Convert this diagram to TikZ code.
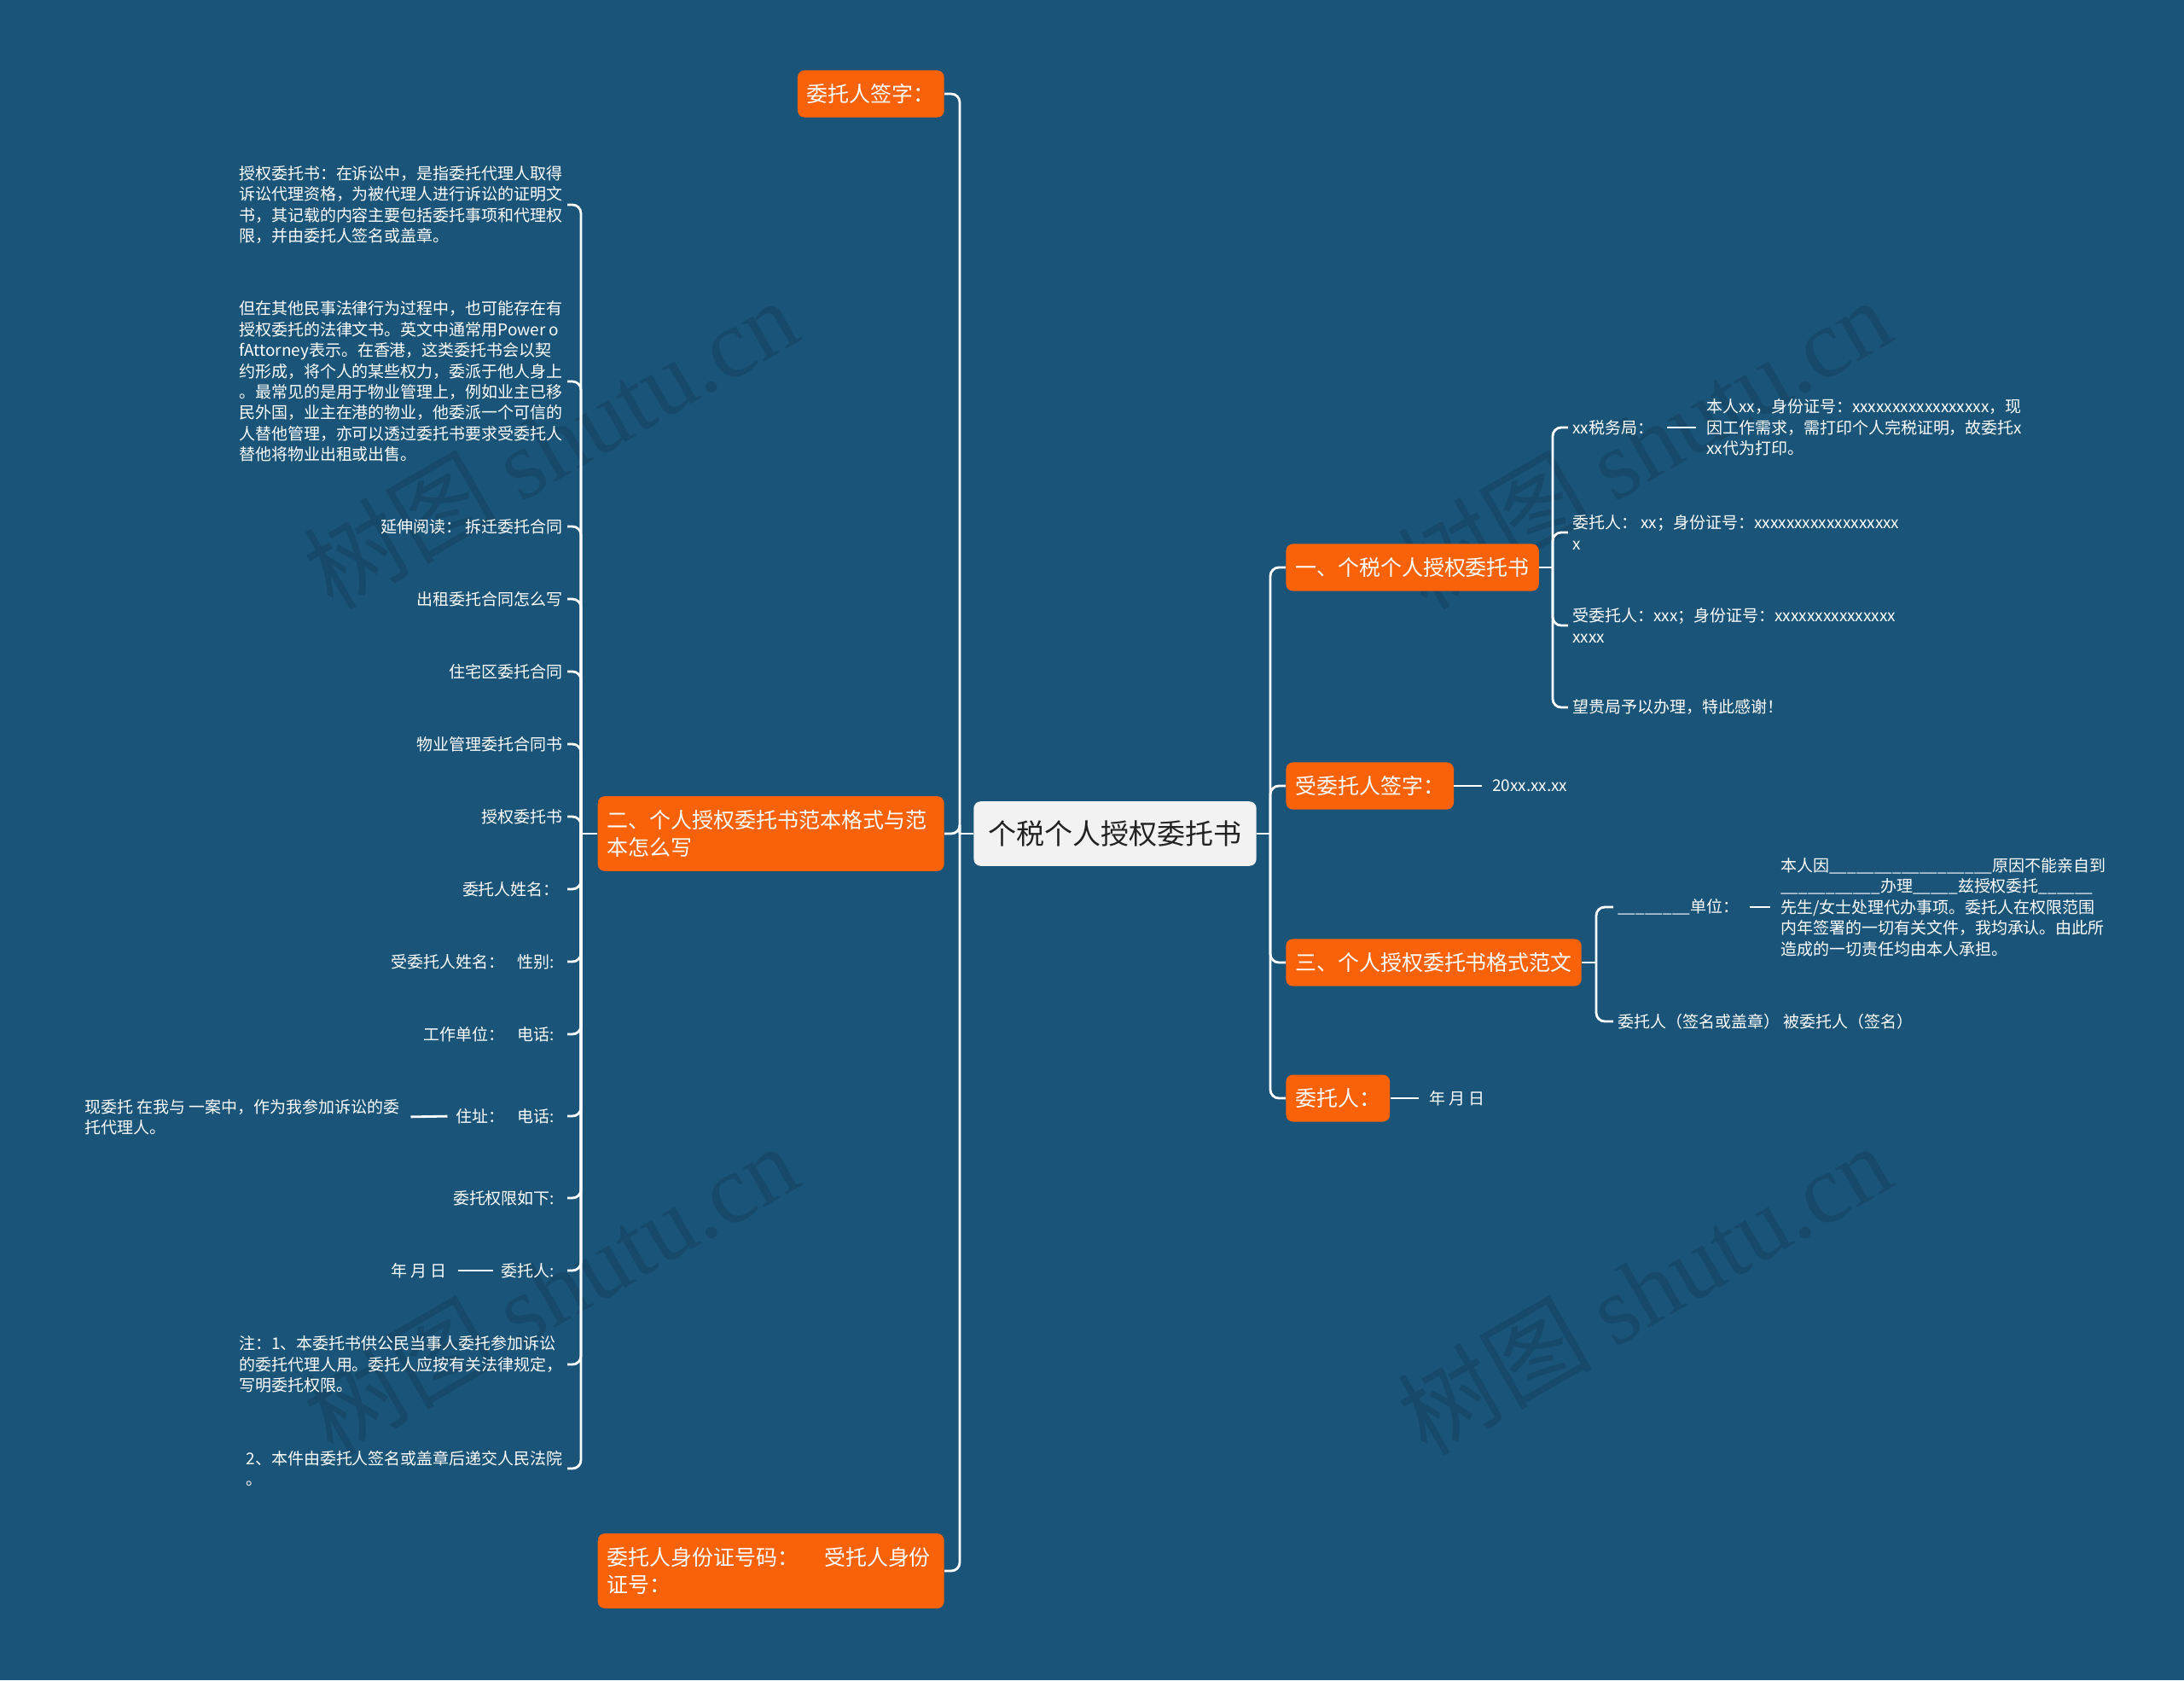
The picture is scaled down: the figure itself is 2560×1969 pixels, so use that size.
\documentclass[tikz,border=0pt]{standalone}
\usepackage{fontspec}
\setmainfont{Noto Sans CJK SC}
\newfontfamily\wmfont{Liberation Serif}
\usetikzlibrary{positioning}

\definecolor{bgblue}{HTML}{1A5479}
\definecolor{topicorange}{HTML}{FA6209}
\definecolor{rootgray}{HTML}{F2F2F2}
\definecolor{rootink}{HTML}{222222}

\tikzset{
  root/.style={fill=rootgray, text=rootink, rounded corners=0.16cm,
    inner xsep=0.34cm, inner ysep=0.45cm, font=\fontsize{18.8}{24}\selectfont},
  topic/.style={fill=topicorange, text=white, rounded corners=0.16cm,
    inner xsep=0.22cm, inner ysep=0.32cm, align=left,
    font=\fontsize{14.2}{18.6}\selectfont},
  leaf/.style={text=white, inner xsep=0.1cm, inner ysep=0.06cm, align=left,
    font=\fontsize{10.8}{13.9}\selectfont},
  link/.style={draw=white, line width=1.6pt, rounded corners=0.2cm},
  tail/.style={link, shorten >=0.15cm},
  wmark/.style={rotate=30, text=black, opacity=0.12,
    font=\fontsize{65}{70}\selectfont}
}

\begin{document}
\begin{tikzpicture}[x=0.02cm, y=-0.02cm]
\useasboundingbox (0,0) rectangle (2560,1969);
\fill[bgblue] (0,0) rectangle (2560,1969);

% watermarks
\foreach \wx/\wy in {645/519, 1927/519, 645/1510, 1927/1510}
  \node[wmark] at (\wx,\wy) {树图 {\wmfont shutu.cn}};

% central topic
\node[root] (root) at (1307,977) {个税个人授权委托书};

% left topics
\node[topic, anchor=east] (esign) at (1107,110) {委托人签字：};
\node[topic, anchor=east, text width=7.68cm] (sample) at (1107,977)
  {二、个人授权委托书范本格式与范\\本怎么写};
\node[topic, anchor=east, text width=7.68cm] (idno) at (1107,1841)
  {委托人身份证号码：\hspace{1.2em}受托人身份\\证号：};

% right topics
\node[topic, anchor=west] (taxdoc) at (1507,665) {一、个税个人授权委托书};
\node[topic, anchor=west] (asign) at (1507,921) {受委托人签字：};
\node[topic, anchor=west] (format) at (1507,1128) {三、个人授权委托书格式范文};
\node[topic, anchor=west] (client) at (1507,1287) {委托人：};

% trunks
\coordinate (lhub) at (1125,977);
\coordinate (rhub) at (1489,977);
\draw[link] (root.west) -- (lhub);
\draw[link] (root.east) -- (rhub);
\foreach \t in {esign,sample,idno} \draw[link] (lhub) |- (\t.east);
\foreach \t in {taxdoc,asign,format,client} \draw[link] (rhub) |- (\t.west);

% sample template, left side
\node[leaf, anchor=east] (def) at (665,240)
  {授权委托书：在诉讼中，是指委托代理人取得\\诉讼代理资格，为被代理人进行诉讼的证明文\\书，其记载的内容主要包括委托事项和代理权\\限，并由委托人签名或盖章。};
\node[leaf, anchor=east] (other) at (665,447)
  {但在其他民事法律行为过程中，也可能存在有\\授权委托的法律文书。英文中通常用Power o\\fAttorney表示。在香港，这类委托书会以契\\约形成，将个人的某些权力，委派于他人身上\\。最常见的是用于物业管理上，例如业主已移\\民外国，业主在港的物业，他委派一个可信的\\人替他管理，亦可以透过委托书要求受委托人\\替他将物业出租或出售。};
\node[leaf, anchor=east] (read) at (665,617) {延伸阅读：\ 拆迁委托合同};
\node[leaf, anchor=east] (rent) at (665,702) {出租委托合同怎么写};
\node[leaf, anchor=east] (zone) at (665,787) {住宅区委托合同};
\node[leaf, anchor=east] (prop) at (665,872) {物业管理委托合同书};
\node[leaf, anchor=east] (auth) at (665,957) {授权委托书};
\node[leaf, anchor=east] (cname) at (665,1042) {委托人姓名：\hspace{0.2em}};
\node[leaf, anchor=east] (aname) at (665,1127) {受委托人姓名：\hspace{0.8em}性别:\hspace{0.5em}};
\node[leaf, anchor=east] (work) at (665,1212) {工作单位：\hspace{0.8em}电话:\hspace{0.5em}};
\node[leaf, anchor=east] (addr) at (665,1308) {住址：\hspace{0.8em}电话:\hspace{0.5em}};
\node[leaf, anchor=east] (scope) at (665,1404) {委托权限如下:\hspace{0.5em}};
\node[leaf, anchor=east] (csign) at (665,1489) {委托人:\hspace{0.5em}};
\node[leaf, anchor=east] (note) at (665,1599)
  {注：1、本委托书供公民当事人委托参加诉讼\\的委托代理人用。委托人应按有关法律规定，\\写明委托权限。};
\node[leaf, anchor=east] (court) at (665,1721)
  {2、本件由委托人签名或盖章后递交人民法院\\。};

\coordinate (shub) at (681,977);
\draw[link] (sample.west) -- (shub);
\foreach \l in {def,other,read,rent,zone,prop,auth,cname,aname,work,addr,scope,csign,note,court}
  \draw[link] (shub) |- (\l.east);

\node[leaf, anchor=east] (mandate) at (474,1309)
  {现委托 在我与 一案中，作为我参加诉讼的委\\托代理人。};
\draw[tail, shorten <=0.1cm] (addr.west) -- (mandate.east);
\node[leaf, anchor=east] (cdate) at (529,1489) {年 月 日};
\draw[tail, shorten <=0.1cm] (csign.west) -- (cdate.east);

% tax letter, right side
\coordinate (thub) at (1820,665);
\draw[link] (taxdoc.east) -- (thub);
\node[leaf, anchor=west] (bureau) at (1838,501) {xx税务局：};
\node[leaf, anchor=west] (entrust) at (1838,624)
  {委托人：\ xx；身份证号：xxxxxxxxxxxxxxxxxx\\x};
\node[leaf, anchor=west] (agent) at (1838,733)
  {受委托人：xxx；身份证号：xxxxxxxxxxxxxxx\\xxxx};
\node[leaf, anchor=west] (thanks) at (1838,829) {望贵局予以办理，特此感谢！};
\foreach \l in {bureau,entrust,agent,thanks} \draw[link] (thub) |- (\l.west);

\node[leaf, anchor=west] (reason) at (1995,501)
  {本人xx，身份证号：xxxxxxxxxxxxxxxxx，现\\因工作需求，需打印个人完税证明，故委托x\\xx代为打印。};
\draw[tail, shorten <=0.2cm] (bureau.east) -- (reason.west);

% signatures and date
\node[leaf, anchor=west] (adate) at (1744,921) {20xx.xx.xx};
\draw[tail] (asign.east) -- (adate.west);
\node[leaf, anchor=west] (ddate) at (1670,1287) {年 月 日};
\draw[tail] (client.east) -- (ddate.west);

% format sample
\coordinate (fhub) at (1871,1128);
\draw[link] (format.east) -- (fhub);
\node[leaf, anchor=west] (unit) at (1891,1063) {\_\_\_\_\_\_\_\_单位：};
\node[leaf, anchor=west] (sigline) at (1891,1197) {委托人（签名或盖章）\ 被委托人（签名）};
\foreach \l in {unit,sigline} \draw[link] (fhub) |- (\l.west);

\node[leaf, anchor=west] (body) at (2082,1063)
  {本人因\_\_\_\_\_\_\_\_\_\_\_\_\_\_\_\_\_\_原因不能亲自到\\\_\_\_\_\_\_\_\_\_\_\_办理\_\_\_\_\_兹授权委托\_\_\_\_\_\_\\先生/女士处理代办事项。委托人在权限范围\\内年签署的一切有关文件，我均承认。由此所\\造成的一切责任均由本人承担。};
\draw[tail, shorten <=0.15cm] (unit.east) -- (body.west);

\end{tikzpicture}
\end{document}
